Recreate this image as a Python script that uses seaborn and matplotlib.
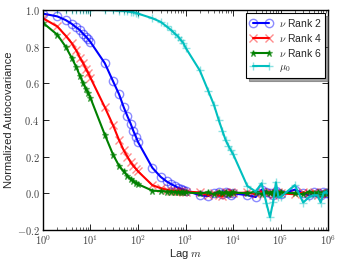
import numpy as np
import pandas as pd
import matplotlib
matplotlib.use("Agg")
import matplotlib.pyplot as plt
import seaborn as sns

sns.set_theme(style="ticks")
plt.rcParams['font.family'] = ['Liberation Sans', 'DejaVu Sans']
plt.rcParams['mathtext.fontset'] = 'cm'
plt.rcParams['xtick.direction'] = 'in'
plt.rcParams['ytick.direction'] = 'in'
plt.rcParams['xtick.top'] = True
plt.rcParams['ytick.right'] = True

# lags: 1..9 per decade, 1 to 1e6
lags = [1, 2, 3, 4, 5, 6, 7, 8, 9,
        10, 20, 30, 40, 50, 60, 70, 80, 90,
        100, 200, 300, 400, 500, 600, 700, 800, 900,
        1000, 2000, 3000, 4000, 5000, 6000, 7000, 8000, 9000,
        10000, 20000, 30000, 40000, 50000, 60000, 70000, 80000, 90000,
        100000, 200000, 300000, 400000, 500000, 600000, 700000, 800000, 900000,
        1000000]

rank2 = [0.98, 0.965, 0.945, 0.925, 0.905, 0.89, 0.87, 0.855, 0.84,
         0.825, 0.71, 0.61, 0.54, 0.47, 0.42, 0.38, 0.34, 0.31,
         0.28, 0.14, 0.09, 0.065, 0.05, 0.04, 0.03, 0.025, 0.02,
         0.015, -0.01, -0.015, 0.0, 0.005, -0.005, 0.01, 0.0, -0.01,
         0.0, -0.01, -0.02, 0.02, 0.01, 0.0, -0.01, 0.015, 0.0,
         -0.005, 0.02, 0.0, -0.01, 0.005, 0.0, -0.01, 0.01, 0.0,
         0.0]

rank4 = [0.955, 0.91, 0.86, 0.82, 0.78, 0.74, 0.71, 0.68, 0.655,
         0.63, 0.47, 0.37, 0.29, 0.235, 0.2, 0.17, 0.15, 0.135,
         0.12, 0.045, 0.028, 0.02, 0.015, 0.013, 0.012, 0.011, 0.01,
         0.01, 0.005, -0.01, 0.0, -0.01, -0.015, 0.005, 0.0, 0.01,
         0.0, 0.005, -0.005, 0.01, 0.0, 0.005, -0.01, 0.0, 0.01,
         0.0, -0.005, 0.005, 0.0, 0.01, -0.01, 0.0, 0.005, -0.005,
         0.0]

rank6 = [0.93, 0.865, 0.8, 0.74, 0.69, 0.64, 0.6, 0.57, 0.545,
         0.52, 0.32, 0.21, 0.15, 0.12, 0.095, 0.08, 0.065, 0.058,
         0.05, 0.015, 0.012, 0.01, 0.01, 0.008, 0.007, 0.006, 0.005,
         0.005, 0.0, 0.005, -0.005, 0.01, 0.0, 0.005, -0.005, 0.0,
         0.005, 0.0, 0.01, -0.005, 0.005, 0.0, 0.01, -0.005, 0.0,
         0.005, 0.0, -0.005, 0.01, 0.0, 0.005, -0.005, 0.0, 0.01,
         0.0]

mu0 = [1.0, 1.0, 1.0, 1.0, 1.0, 1.0, 1.0, 1.0, 1.0,
       1.0, 0.999, 0.998, 0.997, 0.995, 0.993, 0.99, 0.988, 0.985,
       0.98, 0.955, 0.935, 0.91, 0.89, 0.87, 0.855, 0.835, 0.82,
       0.795, 0.67, 0.56, 0.48, 0.4, 0.34, 0.29, 0.26, 0.235,
       0.215, 0.04, 0.01, 0.055, -0.05, -0.13, -0.045, 0.06, -0.02,
       -0.02, 0.045, -0.05, -0.02, -0.01, -0.01, -0.05, 0.0, 0.01,
       0.0]

series = [
    (r"$\nu$ Rank 2", rank2, (0, 0, 1), 'o', 6, dict(mfc='none')),
    (r"$\nu$ Rank 4", rank4, (1, 0, 0), 'x', 6, {}),
    (r"$\nu$ Rank 6", rank6, (0, 0.5, 0), '*', 5, {}),
    (r"$\mu_0$", mu0, (0, 0.75, 0.75), '+', 6, {}),
]

fig = plt.figure(figsize=(3.41, 2.62), dpi=100)
ax = fig.add_axes([0.126, 0.122, 0.836, 0.84])

for label, vals, col, mk, ms, extra in series:
    df = pd.DataFrame({'lag': lags, 'val': vals})
    sns.lineplot(data=df, x='lag', y='val', ax=ax, color=col, linewidth=1.5,
                 marker=mk, markersize=ms, mec=col + (0.45,), mew=1.0,
                 label=label, **extra)

ax.set_xscale('log')
ax.set_xlim(1, 1e6)
ax.set_ylim(-0.2, 1.0)
ax.set_yticks([-0.2, 0.0, 0.2, 0.4, 0.6, 0.8, 1.0])
ax.set_yticklabels([r"$-0.2$", r"$0.0$", r"$0.2$", r"$0.4$", r"$0.6$", r"$0.8$", r"$1.0$"])
ax.set_xticks([1, 10, 100, 1e3, 1e4, 1e5, 1e6])
ax.set_xticklabels([r"$10^{0}$", r"$10^{1}$", r"$10^{2}$", r"$10^{3}$",
                    r"$10^{4}$", r"$10^{5}$", r"$10^{6}$"])
ax.tick_params(axis='both', which='major', labelsize=7.5, length=4, width=0.6,
               colors='black', labelcolor='#444444', pad=2.5)
ax.tick_params(axis='x', which='minor', length=2, width=0.5, top=True)
for s in ax.spines.values():
    s.set_linewidth(1.0)
    s.set_color('black')

ax.set_xlabel(r"Lag $m$", fontsize=8, labelpad=0)
ax.set_ylabel("Normalized Autocovariance", fontsize=8, labelpad=2)

leg = ax.legend(loc='upper right', fontsize=7.5, numpoints=2, shadow=True,
                fancybox=False, framealpha=1, borderpad=0.35, labelspacing=0.3,
                handlelength=2.2, handletextpad=0.6, borderaxespad=0.3)
leg.get_frame().set_edgecolor('black')
leg.get_frame().set_linewidth(0.8)

fig.savefig("out.png", dpi=100)
